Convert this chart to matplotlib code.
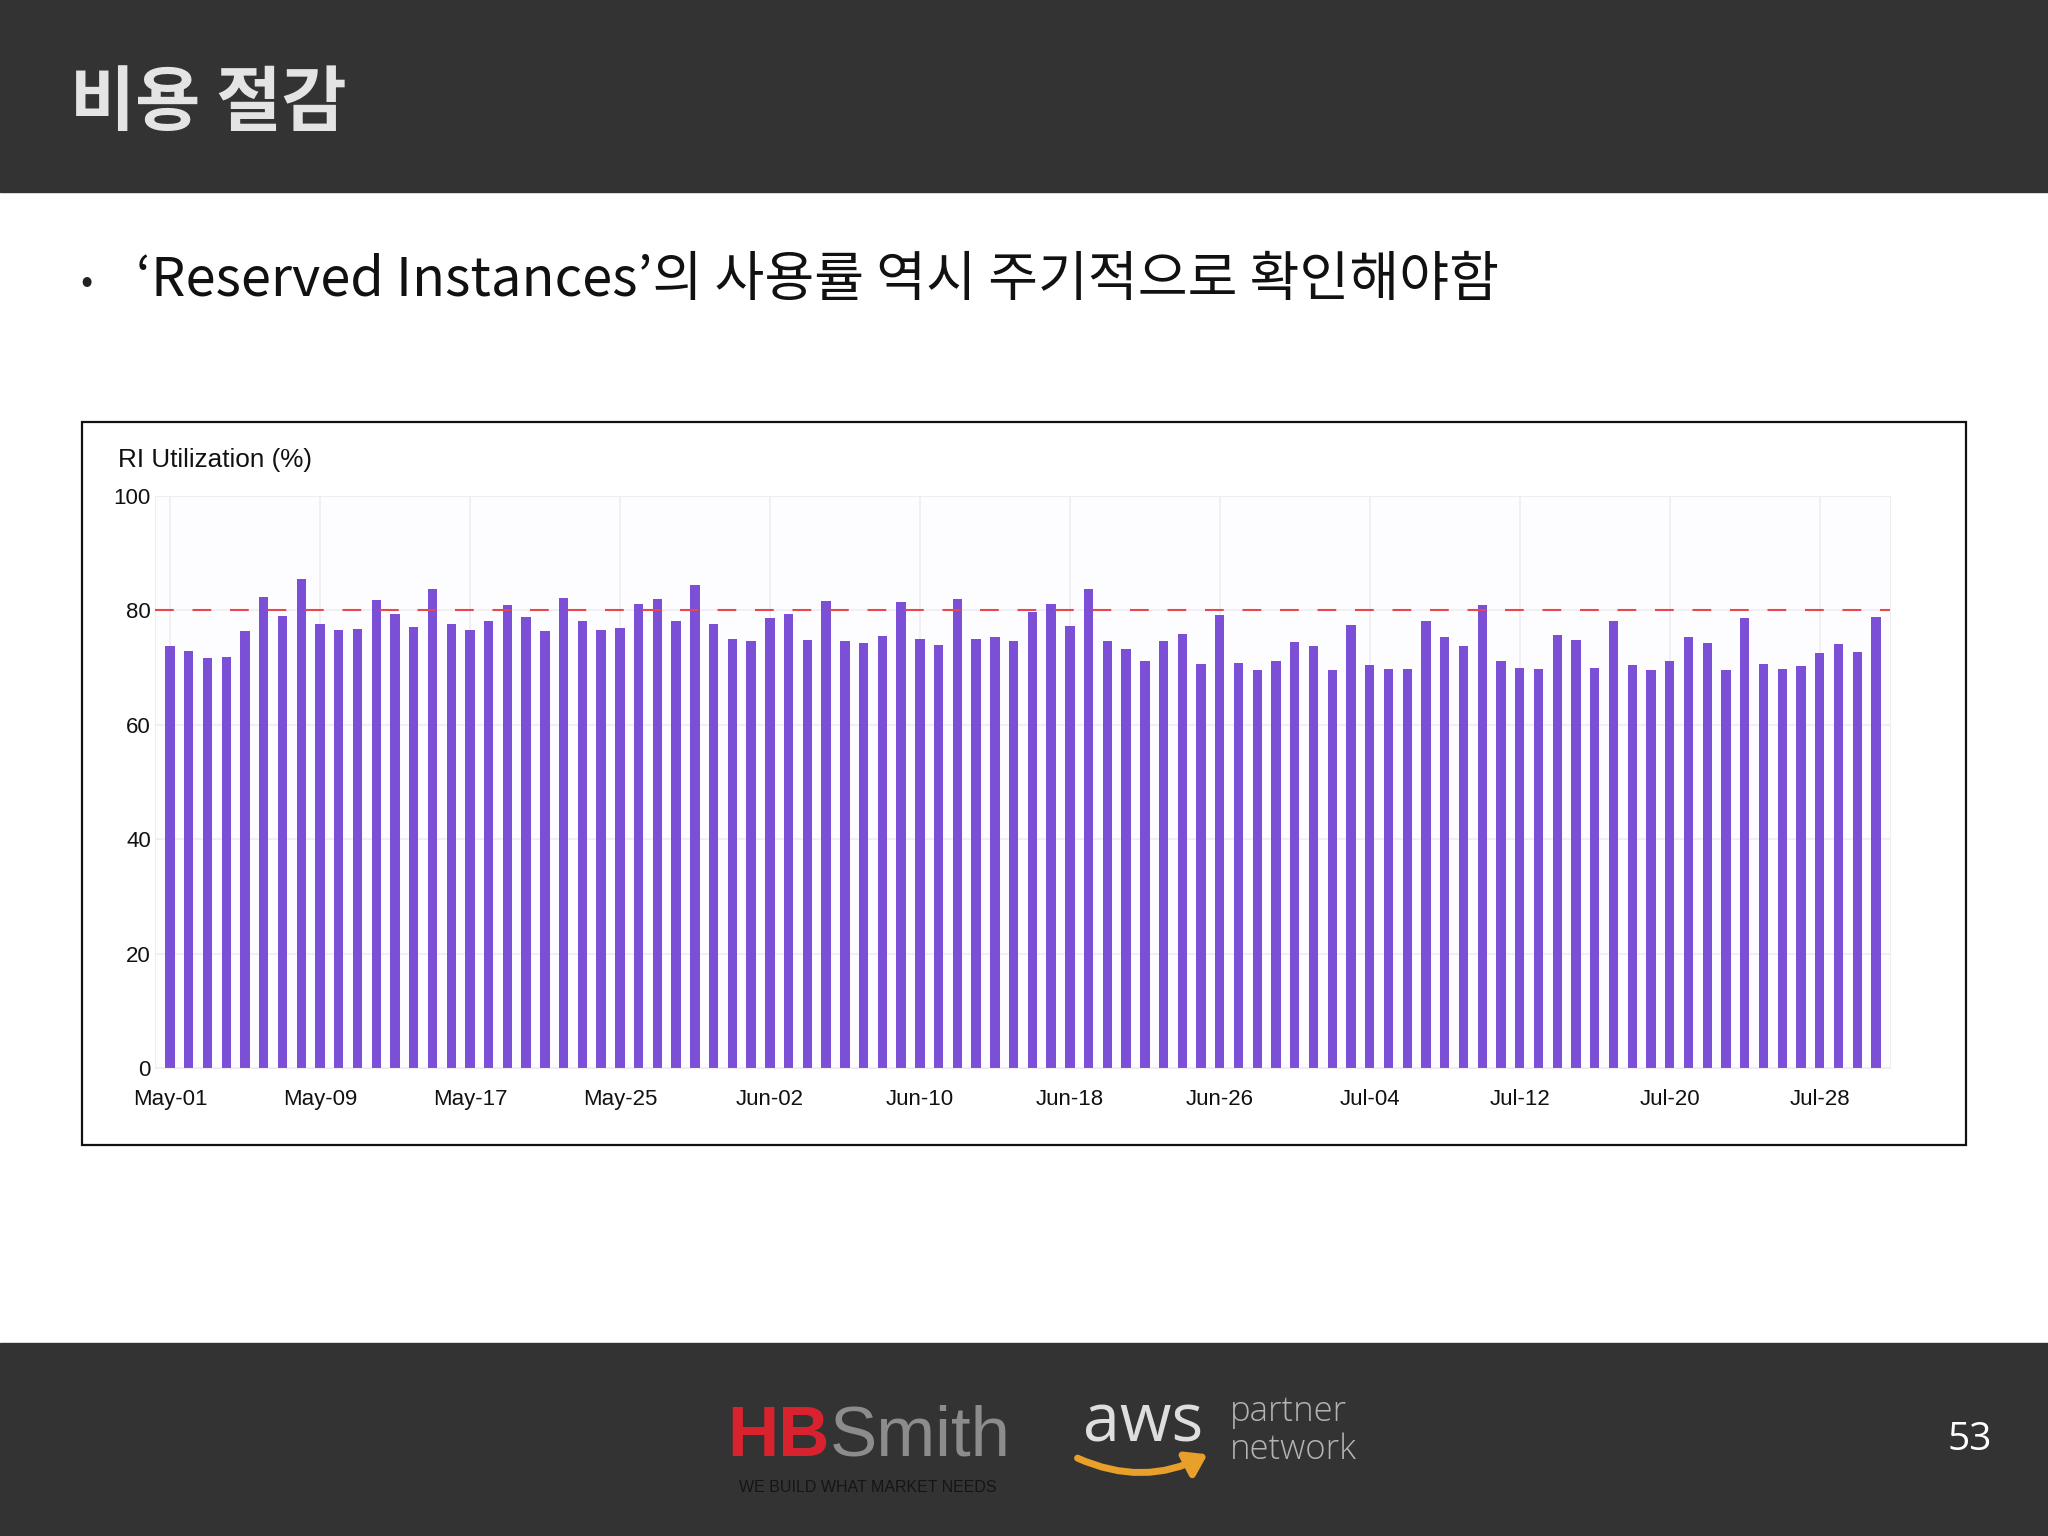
import matplotlib
matplotlib.use('Agg')
import matplotlib.pyplot as plt
from matplotlib.patches import Rectangle, FancyArrowPatch

plt.rcParams['font.family'] = ['Noto Sans CJK KR', 'DejaVu Sans']

# RI utilization per day, May-01 .. Jul-31
utilization = [
    73.8, 72.9, 71.6, 71.8, 76.4, 82.4, 79.0, 85.5, 77.7, 76.6,
    76.8, 81.8, 79.3, 77.1, 83.7, 77.6, 76.5, 78.1, 81.0, 78.9,
    76.4, 82.1, 78.2, 76.6, 77.0, 81.2, 82.0, 78.1, 84.4, 77.7,
    75.0, 74.6, 78.6, 79.4, 74.8, 81.6, 74.7, 74.3, 75.6, 81.4,
    75.0, 73.9, 82.0, 75.0, 75.4, 74.7, 79.7, 81.1, 77.3, 83.8,
    74.6, 73.3, 71.1, 74.6, 75.9, 70.6, 79.2, 70.8, 69.6, 71.1,
    74.4, 73.8, 69.6, 77.4, 70.5, 69.8, 69.8, 78.1, 75.3, 73.8,
    80.9, 71.1, 69.9, 69.8, 75.7, 74.9, 69.9, 78.1, 70.5, 69.5,
    71.1, 75.3, 74.3, 69.5, 78.7, 70.6, 69.7, 70.2, 72.5, 74.1,
    72.8, 78.8,
]
tick_labels = ['May-01', 'May-09', 'May-17', 'May-25', 'Jun-02', 'Jun-10',
               'Jun-18', 'Jun-26', 'Jul-04', 'Jul-12', 'Jul-20', 'Jul-28']
tick_step = 8
target = 80
y_ticks = [0, 20, 40, 60, 80, 100]

W, H = 2048, 1536
fig = plt.figure(figsize=(W / 100, H / 100), dpi=100)
fig.patch.set_facecolor('white')

# slide layer in pixel coordinates (y down)
bg = fig.add_axes([0, 0, 1, 1])
bg.set_xlim(0, W)
bg.set_ylim(H, 0)
bg.axis('off')

bg.add_patch(Rectangle((0, 0), W, 192, color='#333333', zorder=0))
bg.add_patch(Rectangle((0, 1343), W, H - 1343, color='#333333', zorder=0))
bg.add_patch(Rectangle((82, 422), 1884, 723, fill=False, edgecolor='#111111',
                       linewidth=1.6))

bg.text(70, 104, '비용 절감', color='#e4e4e4', fontsize=51, fontweight='bold',
        va='center', ha='left')
bg.text(80, 283, '•', color='#222222', fontsize=26, va='center', ha='left')
bg.text(136, 281, '‘Reserved Instances’의 사용률 역시 주기적으로 확인해야함',
        color='#111111', fontsize=39, va='center', ha='left')

bg.text(118, 460, 'RI Utilization (%)', family=['Liberation Sans', 'DejaVu Sans'],
        fontsize=18.8, va='center', ha='left', color='#111111')

# footer logos
hb = bg.text(727, 1456, 'HB', color='#d8232f', fontsize=51, fontweight='bold',
             family=['Liberation Sans', 'DejaVu Sans'], va='baseline',
             ha='left')
bg.annotate('Smith', xy=(1, 0), xycoords=hb, xytext=(0, 0),
            textcoords='offset points', color='#8c8c8c', fontsize=51,
            family=['Liberation Sans', 'DejaVu Sans'], va='bottom',
            ha='left')
bg.text(868, 1487, 'WE BUILD WHAT MARKET NEEDS', color='#151515', fontsize=11.5,
        family=['Liberation Sans', 'DejaVu Sans'], va='center',
        ha='center')
bg.text(1143, 1424, 'aws', color='#dedede', fontsize=48,
        family=['Open Sans', 'DejaVu Sans'], va='center', ha='center')
bg.add_patch(FancyArrowPatch((1075, 1457), (1210, 1453),
                             connectionstyle='arc3,rad=0.25',
                             arrowstyle='-|>,head_length=6,head_width=4',
                             color='#e8a02a', linewidth=5,
                             mutation_scale=2))
bg.text(1230, 1412, 'partner', color='#b3b3b3', fontsize=25,
        family=['Open Sans', 'DejaVu Sans'], fontweight='light', va='center',
        ha='left')
bg.text(1230, 1450, 'network', color='#b3b3b3', fontsize=25,
        family=['Open Sans', 'DejaVu Sans'], fontweight='light', va='center',
        ha='left')
bg.text(1970, 1440, '53', color='white', fontsize=28,
        family=['Open Sans', 'DejaVu Sans'], va='center', ha='center')

# chart
ax = fig.add_axes([155 / W, 1 - 1068 / H, (1890 - 155) / W, (1068 - 496) / H])
ax.set_facecolor('#fdfcfe')
days = list(range(len(utilization)))
ax.bar(days, utilization, width=0.5, color='#7b4fd6', zorder=2)
ax.axhline(target, color='#e8474b', linewidth=1.5, dashes=(9, 9), zorder=3)

ax.set_xlim(-0.8, len(utilization) - 0.25)
ax.set_ylim(0, 100)
ax.set_xticks(days[::tick_step])
ax.set_xticklabels(tick_labels)
ax.set_yticks(y_ticks)
ax.tick_params(length=0, labelsize=16, colors='#111111')
ax.tick_params(axis='x', pad=15)
ax.tick_params(axis='y', pad=3)
for lbl in ax.get_xticklabels() + ax.get_yticklabels():
    lbl.set_family(['Liberation Sans', 'DejaVu Sans'])
ax.grid(True, color='#efedf2', linewidth=1.2, zorder=0)
ax.set_axisbelow(True)
for s in ax.spines.values():
    s.set_color('#efedf2')

fig.savefig('out.png', dpi=100)
